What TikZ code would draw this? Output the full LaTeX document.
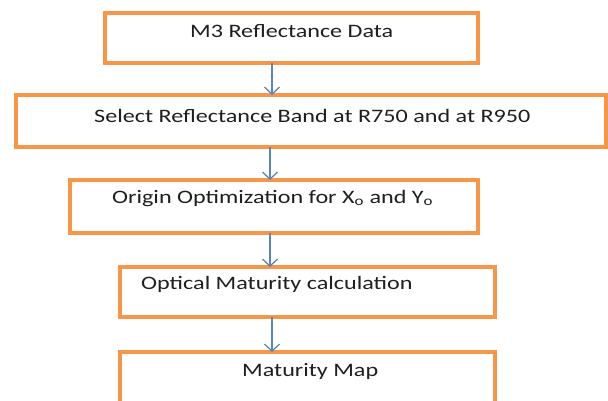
\documentclass[tikz,border=0pt]{standalone}
\usepackage{fontspec}
\setmainfont{Carlito}[FakeStretch=1.27]
\usetikzlibrary{arrows.meta}
\definecolor{boxorange}{HTML}{F79646}
\definecolor{arrowblue}{HTML}{5B84BE}
\begin{document}
\begin{tikzpicture}[x=1pt,y=-1pt,
  stepbox/.style={draw=boxorange, line width=3.3pt, fill=white, rectangle, inner sep=0pt, outer sep=0pt},
  lbl/.style={font=\fontsize{19}{23}\selectfont, text=black!88, inner sep=0pt, anchor=base west},
  flow/.style={draw=arrowblue, line width=1.3pt, -{Straight Barb[length=7pt,width=15pt,line width=1.3pt]}}]
\useasboundingbox (0,0) rectangle (608,400);
\clip (0,0) rectangle (608,400);
% boxes (centre, size between stroke centres)
\node[stepbox, minimum width=373pt, minimum height=50pt] (b1) at (291.5,38) {};
\node[stepbox, minimum width=590pt, minimum height=52pt] (b2) at (311,121) {};
\node[stepbox, minimum width=408pt, minimum height=53pt] (b3) at (274,206.5) {};
\node[stepbox, minimum width=375pt, minimum height=50pt] (b4) at (307.5,292) {};
\node[stepbox, minimum width=375pt, minimum height=70pt] (b5) at (307.5,387) {};
% texts
\node[lbl] (t1) at (190,37) {M3 Reflectance Data};
\node[lbl] (t2) at (94,122) {Select Reflectance Band at R750 and at R950};
\node[lbl] (t3) at (112,203) {Origin Optimization for X\textsubscript{o} and Y\textsubscript{o}};
\node[lbl] (t4) at (141,289) {Optical Maturity calculation};
\node[lbl] (t5) at (242,376) {Maturity Map};
% arrows
\coordinate (c1) at (272,0);
\coordinate (c2) at (270,0);
\coordinate (c3) at (270,0);
\coordinate (c4) at (272,0);
\draw[flow] (b1.south -| c1) -- (b2.north -| c1);
\draw[flow] (b2.south -| c2) -- (b3.north -| c2);
\draw[flow] (b3.south -| c3) -- (b4.north -| c3);
\draw[flow] (b4.south -| c4) -- (b5.north -| c4);
\end{tikzpicture}
\end{document}
